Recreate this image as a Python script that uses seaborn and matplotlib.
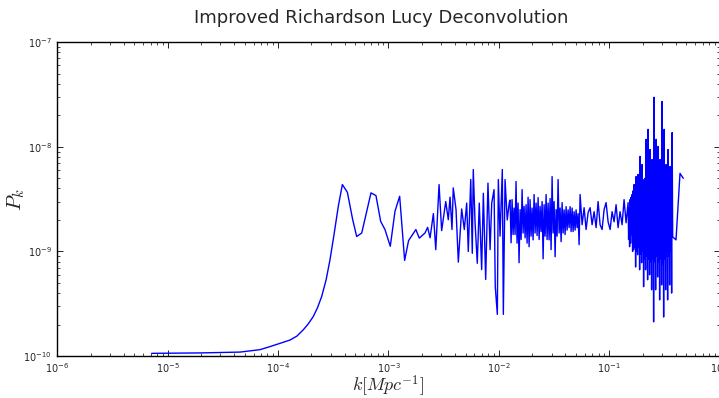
import matplotlib
matplotlib.use("Agg")
import matplotlib.pyplot as plt
import seaborn as sns
import pandas as pd
from matplotlib.ticker import LogLocator, NullFormatter

# ---- data ----
k_smooth = [7.16e-6, 1.96e-5, 4.52e-5, 6.86e-5, 8.45e-5, 1.04e-4, 1.28e-4, 1.48e-4,
            1.69e-4, 1.87e-4, 2.08e-4, 2.27e-4, 2.48e-4, 2.72e-4, 2.95e-4, 3.21e-4,
            3.51e-4, 3.82e-4, 4.24e-4, 4.74e-4, 5.15e-4, 5.72e-4, 6.94e-4, 7.70e-4,
            8.49e-4, 9.29e-4, 1.038e-3, 1.145e-3, 1.262e-3, 1.40e-3, 1.52e-3, 1.77e-3,
            1.90e-3, 2.14e-3, 2.26e-3, 2.38e-3]
P_smooth = [1.06e-10, 1.07e-10, 1.09e-10, 1.15e-10, 1.23e-10, 1.32e-10, 1.42e-10, 1.55e-10,
            1.78e-10, 2.02e-10, 2.38e-10, 2.88e-10, 3.70e-10, 5.33e-10, 8.3e-10, 1.45e-9,
            2.70e-9, 4.36e-9, 3.68e-9, 2.01e-9, 1.39e-9, 1.50e-9, 3.63e-9, 3.42e-9,
            1.94e-9, 1.62e-9, 1.12e-9, 2.42e-9, 3.37e-9, 8.2e-10, 1.27e-9, 1.62e-9,
            1.34e-9, 1.50e-9, 1.70e-9, 1.35e-9]

k_mid = [2.55e-3, 2.68e-3, 2.87e-3, 3.03e-3, 3.30e-3, 3.48e-3, 3.61e-3, 3.76e-3,
         3.86e-3, 4.09e-3, 4.29e-3, 4.60e-3, 4.86e-3, 5.11e-3, 5.28e-3, 5.56e-3,
         5.74e-3, 5.86e-3, 6.08e-3, 6.37e-3, 6.64e-3, 6.98e-3, 7.23e-3, 7.59e-3,
         7.96e-3, 8.32e-3, 8.61e-3, 9.04e-3, 9.27e-3, 9.68e-3, 9.88e-3, 1.024e-2,
         1.074e-2, 1.097e-2, 1.137e-2, 1.19e-2, 1.24e-2]
P_mid = [2.30e-9, 1.04e-9, 4.36e-9, 1.58e-9, 3.0e-9, 2.01e-9, 3.3e-9, 1.62e-9,
         4.05e-9, 2.51e-9, 7.9e-10, 2.55e-9, 1.62e-9, 2.9e-9, 1.0e-9, 4.87e-9,
         9.6e-10, 6.07e-9, 1.9e-9, 7.7e-10, 2.9e-9, 6.7e-10, 3.6e-9, 5.4e-10,
         4.5e-9, 1.04e-9, 2.9e-9, 3.9e-9, 4.6e-10, 2.5e-10, 4.87e-9, 1.4e-9,
         6.07e-9, 2.5e-10, 4.87e-9, 2.0e-9, 2.9e-9]

k_band = [1.262e-2, 1.289e-2, 1.316e-2, 1.344e-2, 1.372e-2, 1.401e-2, 1.430e-2, 1.460e-2,
          1.491e-2, 1.522e-2, 1.556e-2, 1.589e-2, 1.622e-2, 1.656e-2, 1.691e-2, 1.727e-2,
          1.763e-2, 1.800e-2, 1.838e-2, 1.877e-2, 1.916e-2, 1.956e-2, 1.998e-2, 2.040e-2,
          2.083e-2, 2.127e-2, 2.172e-2, 2.218e-2, 2.265e-2, 2.313e-2, 2.361e-2, 2.411e-2,
          2.462e-2, 2.514e-2, 2.567e-2, 2.621e-2, 2.676e-2, 2.732e-2, 2.790e-2, 2.849e-2,
          2.909e-2, 2.970e-2, 3.033e-2, 3.097e-2, 3.162e-2, 3.229e-2, 3.297e-2, 3.366e-2,
          3.437e-2, 3.510e-2, 3.584e-2, 3.660e-2, 3.736e-2, 3.815e-2, 3.895e-2, 3.977e-2,
          4.061e-2, 4.147e-2, 4.234e-2, 4.323e-2, 4.415e-2, 4.508e-2, 4.603e-2, 4.700e-2,
          4.799e-2, 4.900e-2, 5.003e-2, 5.108e-2, 5.216e-2, 5.326e-2,
          5.439e-2, 5.670e-2, 5.912e-2, 6.163e-2, 6.426e-2, 6.700e-2, 6.985e-2, 7.283e-2,
          7.593e-2, 7.916e-2, 8.253e-2, 8.605e-2, 8.971e-2, 9.353e-2, 9.752e-2, 0.1017,
          0.1060, 0.1105, 0.1152, 0.1201, 0.1252, 0.1306, 0.1361, 0.1419]
P_band = [3.1e-9, 1.21e-9, 3.13e-9, 1.45e-9, 2.6e-9, 1.45e-9, 4.66e-9, 1.2e-9,
          2.9e-9, 7.8e-10, 2.51e-9, 1.3e-9, 3.90e-9, 1.5e-9, 2.7e-9, 1.35e-9,
          2.80e-9, 1.2e-9, 3.3e-9, 1.11e-9, 3.13e-9, 1.4e-9, 2.6e-9, 1.29e-9,
          3.50e-9, 1.5e-9, 2.9e-9, 1.42e-9, 3.27e-9, 1.3e-9, 2.7e-9, 1.55e-9,
          3.0e-9, 8.5e-10, 2.80e-9, 1.4e-9, 3.50e-9, 1.3e-9, 2.9e-9, 1.29e-9,
          3.2e-9, 1.04e-9, 5.2e-9, 1.5e-9, 3.0e-9, 8.9e-10, 2.51e-9, 1.4e-9,
          4.87e-9, 1.5e-9, 2.6e-9, 1.24e-9, 2.93e-9, 1.5e-9, 2.5e-9, 1.45e-9,
          2.68e-9, 1.6e-9, 2.5e-9, 1.69e-9, 2.68e-9, 1.55e-9, 2.6e-9, 1.55e-9,
          2.40e-9, 1.6e-9, 2.5e-9, 1.69e-9, 2.3e-9, 1.16e-9,
          3.50e-9, 1.80e-9, 2.62e-9, 1.62e-9, 2.35e-9, 2.62e-9, 1.80e-9, 2.40e-9,
          1.69e-9, 3.0e-9, 1.80e-9, 1.62e-9, 2.51e-9, 2.93e-9, 1.92e-9, 1.62e-9,
          2.40e-9, 1.92e-9, 2.80e-9, 1.69e-9, 2.40e-9, 1.80e-9, 3.13e-9, 1.88e-9]

k_dense = [0.1480, 0.1496, 0.1511, 0.1527, 0.1543, 0.1559, 0.1576, 0.1593,
           0.1609, 0.1626, 0.1643, 0.1660, 0.1677, 0.1695, 0.1713, 0.1731,
           0.1749, 0.1768, 0.1786, 0.1805, 0.1823, 0.1842, 0.1862, 0.1882,
           0.1901, 0.1921, 0.1941, 0.1962, 0.1982, 0.2003, 0.2024, 0.2045,
           0.2067, 0.2089, 0.2110, 0.2132, 0.2155, 0.2178, 0.2200, 0.2223,
           0.2247, 0.2271, 0.2294, 0.2318, 0.2342, 0.2367, 0.2392, 0.2417,
           0.2442, 0.2468, 0.2494, 0.2520, 0.2546, 0.2573, 0.2600, 0.2628,
           0.2655, 0.2683, 0.2711, 0.2740, 0.2768, 0.2797, 0.2827, 0.2857,
           0.2886, 0.2917, 0.2947, 0.2978, 0.3009, 0.3041, 0.3073, 0.3106,
           0.3138, 0.3171, 0.3204, 0.3238, 0.3271, 0.3306, 0.3340, 0.3375,
           0.3411, 0.3447, 0.3483, 0.3520, 0.3556, 0.3594, 0.3631, 0.3669,
           0.3708, 0.375]
P_dense = [2.93e-9, 1.3e-9, 2.6e-9, 1.11e-9, 3.13e-9, 1.2e-9, 3.3e-9, 1.45e-9,
           3.50e-9, 1.0e-9, 3.8e-9, 1.04e-9, 4.36e-9, 1.1e-9, 3.6e-9, 7.1e-10,
           5.2e-9, 1.0e-9, 4.0e-9, 9.3e-10, 5.44e-9, 1.1e-9, 4.2e-9, 6.68e-10,
           8.1e-9, 9.5e-10, 4.5e-9, 7.8e-10, 6.78e-9, 1.0e-9, 4.4e-9, 4.6e-10,
           4.87e-9, 8.5e-10, 5.0e-9, 6.68e-10, 1.18e-8, 9.0e-10, 4.6e-9, 5.36e-10,
           1.47e-8, 8.5e-10, 5.0e-9, 5.98e-10, 9.44e-9, 8.0e-10, 4.8e-9, 4.30e-10,
           7.57e-9, 8.5e-10, 5.2e-9, 2.12e-10, 2.98e-8, 8.0e-10, 5.0e-9, 4.30e-10,
           1.18e-8, 9.0e-10, 4.6e-9, 5.7e-10, 1.01e-8, 8.0e-10, 5.2e-9, 3.44e-10,
           7.57e-9, 8.5e-10, 4.8e-9, 4.79e-10, 2.72e-8, 7.5e-10, 5.0e-9, 2.36e-10,
           1.47e-8, 8.5e-10, 4.6e-9, 4.30e-10, 6.78e-9, 9.0e-10, 4.4e-9, 3.44e-10,
           9.44e-9, 9.0e-10, 4.2e-9, 4.79e-10, 6.5e-9, 1.0e-9, 4.0e-9, 4.0e-10,
           1.37e-8, 1.38e-9]

k_tail = [0.402, 0.437, 0.468]
P_tail = [1.29e-9, 5.58e-9, 5.0e-9]

df = pd.DataFrame({
    "k": k_smooth + k_mid + k_band + k_dense + k_tail,
    "P": P_smooth + P_mid + P_band + P_dense + P_tail,
})

sns.set_style("white")
plt.rcParams["font.family"] = ["DejaVu Sans"]
plt.rcParams["mathtext.fontset"] = "cm"

W, H = 719, 398
fig = plt.figure(figsize=(W / 100, H / 100), dpi=100)
ax = fig.add_axes([57.3 / W, 42.0 / H, 662.4 / W, 313.7 / H])

sns.lineplot(data=df, x="k", y="P", ax=ax, color="#0000ff", linewidth=1.0,
             estimator=None, sort=False)

ax.set_xscale("log")
ax.set_yscale("log")
ax.set_xlim(1e-6, 1e0)
ax.set_ylim(1e-10, 1e-7)

ax.xaxis.set_major_locator(LogLocator(base=10, numticks=10))
ax.yaxis.set_major_locator(LogLocator(base=10, numticks=10))
ax.xaxis.set_minor_locator(LogLocator(base=10, subs=range(2, 10), numticks=100))
ax.yaxis.set_minor_locator(LogLocator(base=10, subs=range(2, 10), numticks=100))
ax.xaxis.set_minor_formatter(NullFormatter())
ax.yaxis.set_minor_formatter(NullFormatter())

for s in ax.spines.values():
    s.set_color("black")
    s.set_linewidth(1.0)
    s.set_visible(True)

ax.tick_params(which="both", direction="in", top=True, right=True,
               bottom=True, left=True, color="black")
ax.tick_params(which="major", length=4, width=0.6, labelsize=7, pad=4)
ax.tick_params(which="minor", length=2, width=0.5)

ax.set_xlabel(r"$k[Mpc^{-1}]$", fontsize=13)
ax.set_ylabel(r"$P_k$", fontsize=15)
ax.xaxis.set_label_coords(0.5, -0.058)
ax.yaxis.set_label_coords(-0.045, 0.5)
fig.text(381 / W, 1 - 18 / H, "Improved Richardson Lucy Deconvolution",
         fontsize=13, ha="center", va="center")

fig.savefig("out.png", dpi=100, facecolor="white")
